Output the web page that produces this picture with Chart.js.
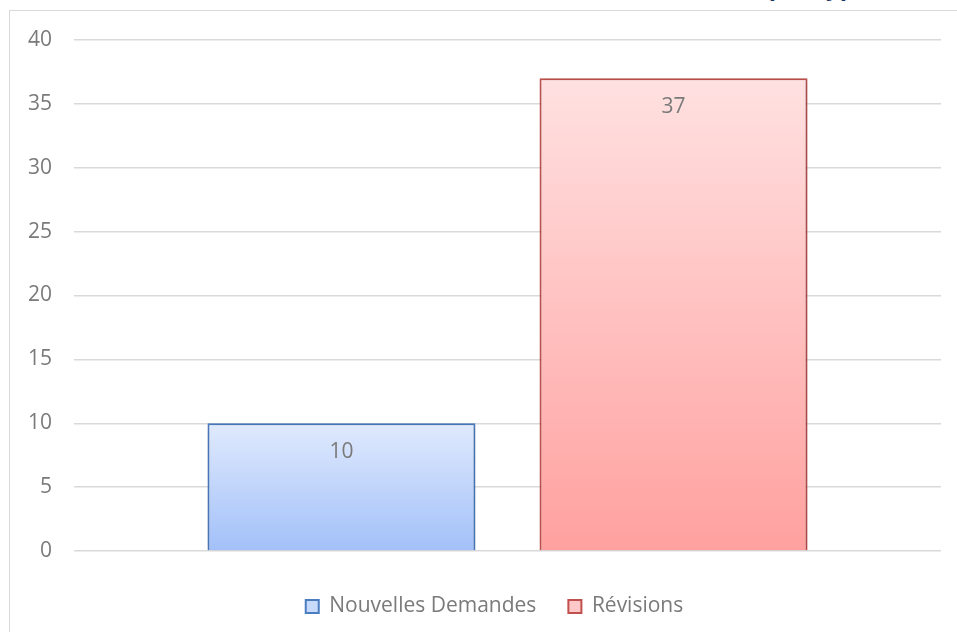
<!DOCTYPE html>
<html>
<head>
<meta charset="utf-8">
<script src="https://cdn.jsdelivr.net/npm/chart.js@4.4.1/dist/chart.umd.min.js"></script>
<style>
  html, body { margin: 0; padding: 0; background: #fff; overflow: hidden; }
  #wrap { position: relative; width: 957px; height: 632px; overflow: hidden; }
  #frame { position: absolute; left: 9px; top: 10px; width: 1100px; height: 800px; border: 1.5px solid #d9d9d9; box-sizing: border-box; }
  #title { position: absolute; right: 88px; top: -31px; font: bold 24px "Open Sans", sans-serif; color: #1f3864; white-space: nowrap; }
  canvas { position: absolute; left: 0; top: 0; }
</style>
</head>
<body>
<div id="wrap">
  <div id="frame"></div>
  <div id="title">Nombre de demandes par type</div>
  <canvas id="chart" width="957" height="632"></canvas>
</div>
<script>
// données
const categories = [''];
const seriesNames = ['Nouvelles Demandes', 'Révisions'];
const nouvellesDemandes = [10];
const revisions = [37];
const yTicks = [0, 5, 10, 15, 20, 25, 30, 35, 40];

const colors = [
  { top: '#e0eafd', bottom: '#a2c0f9', border: '#4a7cc0', legend: '#c8dafb' },
  { top: '#ffe1e1', bottom: '#ffa19f', border: '#c0504d', legend: '#ffc8c8' }
];
const FONT = '"Open Sans", sans-serif';

function barGradient(ctx, i) {
  const chart = ctx.chart;
  if (!chart.chartArea || ctx.parsed === undefined) return colors[i].bottom;
  const y = chart.scales.y;
  const top = y.getPixelForValue(ctx.parsed.y);
  const bottom = y.getPixelForValue(0);
  const g = chart.ctx.createLinearGradient(0, top, 0, bottom);
  g.addColorStop(0, colors[i].top);
  g.addColorStop(1, colors[i].bottom);
  return g;
}

// légende un peu décalée vers la droite comme dans Excel
const legendShift = {
  id: 'legendShift',
  beforeDraw(chart) {
    if (chart.legend && !chart.legend._shifted) {
      chart.legend.left += 24;
      chart.legend.right += 24;
      chart.legend._shifted = true;
    }
  }
};

const shadowAndLabels = {
  id: 'shadowAndLabels',
  beforeDatasetsDraw(chart) {
    const c = chart.ctx;
    c.save();
    c.shadowColor = 'rgba(0,0,0,0.22)';
    c.shadowBlur = 5;
    c.shadowOffsetX = 1;
    c.shadowOffsetY = 1;
  },
  afterDatasetsDraw(chart) {
    const c = chart.ctx;
    c.restore();
    c.save();
    c.font = '21px ' + FONT;
    c.fillStyle = '#7a7a7a';
    c.textAlign = 'center';
    c.textBaseline = 'middle';
    chart.data.datasets.forEach((ds, i) => {
      chart.getDatasetMeta(i).data.forEach((bar, j) => {
        c.fillText(String(ds.data[j]), bar.x, bar.y + 29);
      });
    });
    c.restore();
  }
};

new Chart(document.getElementById('chart'), {
  type: 'bar',
  data: {
    labels: categories,
    datasets: [
      {
        label: seriesNames[0],
        data: nouvellesDemandes,
        backgroundColor: ctx => barGradient(ctx, 0),
        borderColor: colors[0].border,
        borderWidth: 2,
        categoryPercentage: 0.766,
        barPercentage: 0.807
      },
      {
        label: seriesNames[1],
        data: revisions,
        backgroundColor: ctx => barGradient(ctx, 1),
        borderColor: colors[1].border,
        borderWidth: 2,
        categoryPercentage: 0.766,
        barPercentage: 0.807
      }
    ]
  },
  options: {
    responsive: false,
    animation: false,
    layout: { padding: { top: 40, right: 16, left: 0, bottom: 5 } },
    plugins: {
      tooltip: { enabled: false },
      legend: {
        position: 'bottom',
        labels: {
          font: { family: FONT, size: 21 },
          color: '#7a7a7a',
          boxWidth: 13,
          boxHeight: 13,
          padding: 32,
          generateLabels: chart => chart.data.datasets.map((ds, i) => ({
            text: ds.label,
            fillStyle: colors[i].legend,
            strokeStyle: colors[i].border,
            lineWidth: 2,
            fontColor: '#7a7a7a',
            datasetIndex: i
          }))
        }
      }
    },
    scales: {
      x: {
        grid: { display: false },
        border: { display: false },
        ticks: { display: false },
        afterFit: s => { s.height = 13; }
      },
      y: {
        min: 0,
        max: 40,
        afterBuildTicks: s => { s.ticks = yTicks.map(v => ({ value: v })); },
        afterFit: s => { s.width = 74; },
        grid: { color: '#d9d9d9', lineWidth: 1.5, drawTicks: false },
        border: { display: false },
        ticks: {
          padding: 22,
          color: '#7a7a7a',
          font: { family: FONT, size: 21 }
        }
      }
    }
  },
  plugins: [legendShift, shadowAndLabels]
});
</script>
</body>
</html>
